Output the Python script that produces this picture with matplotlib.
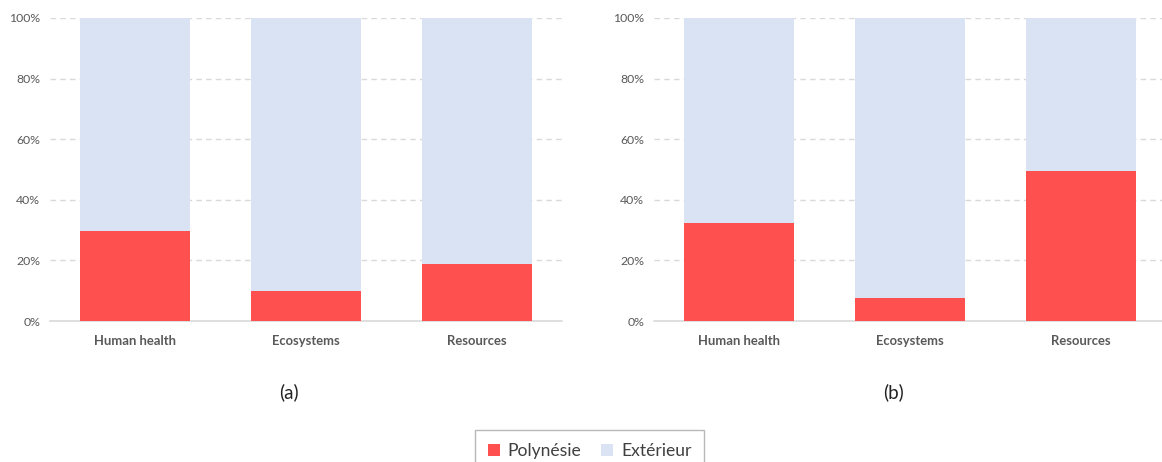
import numpy as np
import matplotlib
matplotlib.use("Agg")
import matplotlib.pyplot as plt
from matplotlib.patches import Patch

#########################################
#DATA
#########################################
categories=["Human health","Ecosystems","Resources"]
polynesie_a=[29.7,9.9,18.8]
polynesie_b=[32.3,7.6,49.5]
panel_labels=["(a)","(b)"]
series_names=["Polynésie","Extérieur"]
yticks=[0,20,40,60,80,100]

#########################################
#STYLE
#########################################
red="#FF5050"
blue="#DAE3F3"
grey="#595959"
gridc="#D9D9D9"
plt.rcParams['font.family']=['Lato','DejaVu Sans']

fig=plt.figure(figsize=(11.62,4.62),dpi=100)
W,H=1162.,462.
axes=[fig.add_axes([50/W,141/H,512/W,303/H]),
      fig.add_axes([654/W,141/H,512/W,303/H])]
label_x=[289,893]

for ax,vals,lab,lx in zip(axes,[polynesie_a,polynesie_b],panel_labels,label_x):
    x=np.arange(len(categories))
    vals=np.array(vals)
    ax.bar(x,vals,width=0.645,color=red,zorder=3)
    ax.bar(x,100-vals,bottom=vals,width=0.645,color=blue,zorder=3)
    ax.set_xlim(-0.5,len(categories)-0.5)
    ax.set_ylim(0,100)
    ax.set_yticks(yticks)
    ax.set_yticklabels(["%d%%"%t for t in yticks],fontsize=8.8,color=grey)
    ax.set_xticks(x)
    ax.set_xticklabels(categories,fontsize=9.4,color=grey,fontweight='bold')
    ax.tick_params(axis='both',length=0)
    ax.tick_params(axis='y',pad=7)
    ax.tick_params(axis='x',pad=10)
    for t in yticks[1:]:
        ax.axhline(t,color=gridc,linestyle=(0,(4,3)),linewidth=1,zorder=1)
    for s in ['top','right','left']:
        ax.spines[s].set_visible(False)
    ax.spines['bottom'].set_color(gridc)
    ax.spines['bottom'].set_linewidth(1.2)
    fig.text(lx/W,1-392/H,lab,ha='center',va='center',fontsize=13.5,color='#222222')

handles=[Patch(facecolor=red,edgecolor='none'),Patch(facecolor=blue,edgecolor='none')]
leg=fig.legend(handles,series_names,loc='upper center',bbox_to_anchor=(589.5/W,1-430/H),ncol=2,
               fontsize=12.6,frameon=True,fancybox=False,edgecolor='#A6A6A6',handlelength=0.7,handleheight=0.7,
               handletextpad=0.45,columnspacing=1.1,borderpad=0.75,borderaxespad=0,labelcolor='#404040')
leg.get_frame().set_linewidth(1.0)

fig.savefig("out.png",dpi=100)
